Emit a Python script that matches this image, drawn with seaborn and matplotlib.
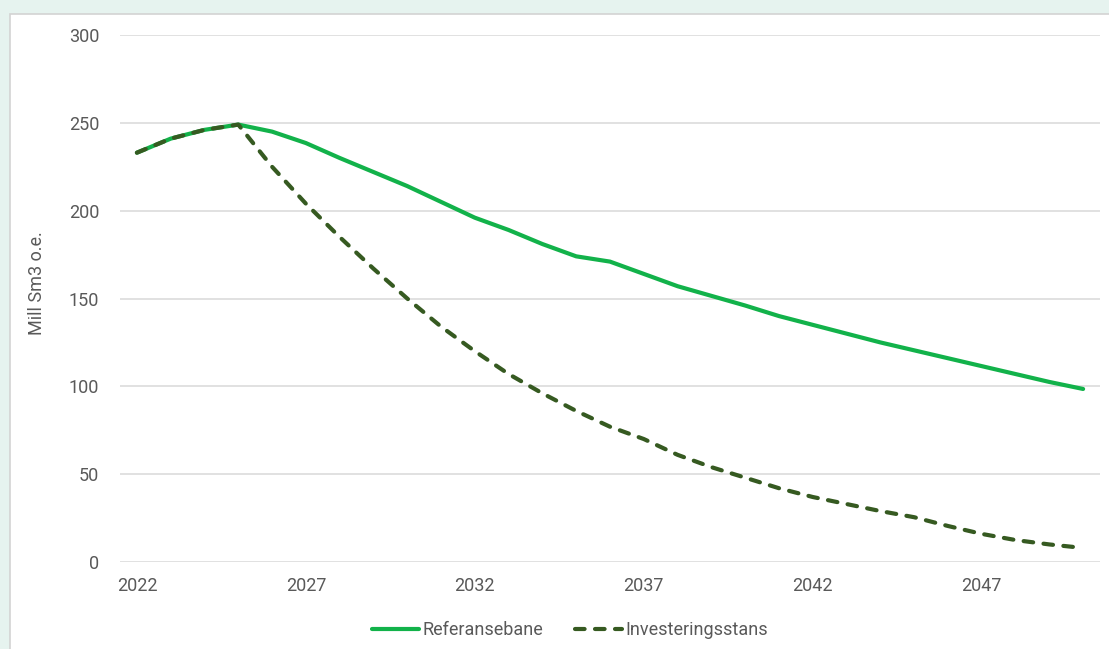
import matplotlib
matplotlib.use("Agg")
import pandas as pd
import seaborn as sns
from matplotlib import pyplot as plt
from matplotlib.patches import Rectangle


YEARS = list(range(2022, 2051))
REFERANSEBANE = [
    233, 241, 246, 249, 245, 238.5, 230, 222, 214, 205,
    196, 189, 181, 174, 171, 164, 157, 151.5, 146, 140,
    135, 130, 125, 120.5, 116, 111.5, 107, 102.5, 98.5,
]
INVESTERINGSSTANS = [
    233, 241, 246, 249, 225, 204, 185, 167, 150, 134,
    120, 107, 96, 86, 77, 70, 61, 54, 48, 42,
    37, 33, 29, 25.5, 20.5, 16, 12.5, 10, 8,
]
SERIES_NAMES = ["Referansebane", "Investeringsstans"]
X_TICKS = [2022, 2027, 2032, 2037, 2042, 2047]
Y_TICKS = [0, 50, 100, 150, 200, 250, 300]


def build_frame() -> pd.DataFrame:
    rows = []
    for name, values in zip(SERIES_NAMES, (REFERANSEBANE, INVESTERINGSSTANS)):
        for year, value in zip(YEARS, values):
            rows.append({"year": year, "value": value, "serie": name})
    return pd.DataFrame(rows)


def main() -> None:
    df = build_frame()
    sns.set_theme(style="white")
    plt.rcParams["font.family"] = ["Roboto", "DejaVu Sans"]

    fig = plt.figure(figsize=(11.09, 6.49), dpi=100, facecolor="#e6f3ef")
    # white card with a thin grey border, running off the right/bottom edge
    fig.patches.append(
        Rectangle(
            (10 / 1109, -0.2), 1.2, 0.2 + 1 - 14 / 649,
            transform=fig.transFigure, facecolor="white",
            edgecolor="#d3d3d3", linewidth=1.2, zorder=-10,
        )
    )
    ax = fig.add_axes([120 / 1109, 1 - 562 / 649, 980 / 1109, 527 / 649])
    ax.set_facecolor("none")
    ax.set_zorder(2)

    palette = {"Referansebane": "#12b24a", "Investeringsstans": "#365a21"}
    sns.lineplot(
        data=df, x="year", y="value", hue="serie", style="serie",
        palette=palette,
        dashes={"Referansebane": "", "Investeringsstans": (2.3, 2.5)},
        linewidth=3.0, ax=ax,
    )
    for line in ax.lines:
        line.set_dash_capstyle("round")
        line.set_solid_capstyle("round")
        line.set_solid_joinstyle("round")
        line.set_clip_on(False)

    ax.set_xlim(2021.5, 2050.5)
    ax.set_ylim(0, 300)
    ax.set_xticks(X_TICKS)
    ax.set_yticks(Y_TICKS)
    ax.set_xlabel("")
    ax.set_ylabel("")
    ax.grid(axis="y", color="#d9d9d9", linewidth=1.1)
    ax.set_axisbelow(True)
    sns.despine(ax=ax, left=True, bottom=True)
    ax.tick_params(axis="both", length=0, labelsize=13, labelcolor="#595959")
    ax.tick_params(axis="y", pad=15)
    ax.tick_params(axis="x", pad=11)

    fig.text(37 / 1109, 1 - 283 / 649, "Mill Sm3 o.e.", rotation=90,
             ha="center", va="center", fontsize=13, color="#595959")

    handles, labels = ax.get_legend_handles_labels()
    ax.legend_.remove()
    leg = fig.legend(
        handles, labels, loc="center", bbox_to_anchor=(570 / 1109, 1 - 630 / 649),
        ncol=2, frameon=False, fontsize=13, handlelength=2.6,
        handletextpad=0.15, columnspacing=1.8,
    )
    for text in leg.get_texts():
        text.set_color("#595959")

    fig.savefig("out.png", dpi=100, facecolor=fig.get_facecolor())
    plt.close(fig)


if __name__ == "__main__":
    main()
